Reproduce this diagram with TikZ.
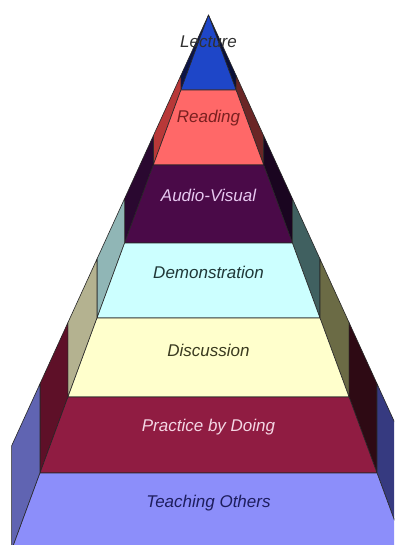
\documentclass[tikz,border=0pt]{standalone}
\usepackage{fontspec}
\setmainfont{Liberation Sans}
% pyramid geometry: apex, half-slopes of the front face and of the silhouette
\def\pyrcx{208.5}
\def\pyrap{15}
\def\pyrsi{0.368}
\def\pyrso{0.457}
% front faces
\definecolor{lecF}{HTML}{1E46C8}
\definecolor{reaF}{HTML}{FF6868}
\definecolor{audF}{HTML}{4A0A48}
\definecolor{demF}{HTML}{CCFFFF}
\definecolor{disF}{HTML}{FFFFCC}
\definecolor{praF}{HTML}{901C42}
\definecolor{teaF}{HTML}{8C8EFA}
% left side panels
\definecolor{lecL}{HTML}{0C1448}
\definecolor{reaL}{HTML}{B83838}
\definecolor{audL}{HTML}{2A0830}
\definecolor{demL}{HTML}{90B6B6}
\definecolor{disL}{HTML}{B4B290}
\definecolor{praL}{HTML}{5E1028}
\definecolor{teaL}{HTML}{6064B2}
% right side panels
\definecolor{lecR}{HTML}{0A1038}
\definecolor{reaR}{HTML}{6A2626}
\definecolor{audR}{HTML}{1A0520}
\definecolor{demR}{HTML}{406060}
\definecolor{disR}{HTML}{6B6B45}
\definecolor{praR}{HTML}{2E0A14}
\definecolor{teaR}{HTML}{363A80}
% label colours
\definecolor{lecT}{HTML}{303030}
\definecolor{reaT}{HTML}{7A2020}
\definecolor{audT}{HTML}{E6C8F0}
\definecolor{demT}{HTML}{203838}
\definecolor{disT}{HTML}{3A3A20}
\definecolor{praT}{HTML}{F4D6E4}
\definecolor{teaT}{HTML}{1E1E5E}
\begin{document}
\begin{tikzpicture}[x=1pt,y=-1pt,
  face/.style={draw=black!85,line width=0.6pt,line join=round},
  sidepanel/.style={draw=black!85,line width=0.6pt,line join=round},
  lbl/.style={font=\fontsize{17}{20}\selectfont\itshape,inner sep=0pt,anchor=center}]
\useasboundingbox (0,0) rectangle (394,545);
\clip (0,0) rectangle (394,545);
\fill[white] (0,0) rectangle (394,545);
% one slab per tier: two side panels and the front trapezoid
\foreach \yt/\yb/\fc/\lc/\rc in {
  15/90/lecF/lecL/lecR,
  90/165/reaF/reaL/reaR,
  165/243/audF/audL/audR,
  243/318/demF/demL/demR,
  318/397/disF/disL/disR,
  397/473/praF/praL/praR,
  473/550/teaF/teaL/teaR}{
  \pgfmathsetmacro\xa{\pyrcx-\pyrsi*(\yb-\pyrap)}
  \pgfmathsetmacro\xb{\pyrcx-\pyrsi*(\yt-\pyrap)}
  \pgfmathsetmacro\oa{\pyrap+(\pyrcx-\xa)/\pyrso}
  \pgfmathsetmacro\ob{\pyrap+(\pyrcx-\xb)/\pyrso}
  \pgfmathsetmacro\xc{2*\pyrcx-\xa}
  \pgfmathsetmacro\xd{2*\pyrcx-\xb}
  \path[sidepanel,fill=\lc] (\xa,\oa) -- (\xb,\ob) -- (\xb,\yt) -- (\xa,\yb) -- cycle;
  \path[sidepanel,fill=\rc] (\xc,\oa) -- (\xd,\ob) -- (\xd,\yt) -- (\xc,\yb) -- cycle;
  \path[face,fill=\fc] (\xb,\yt) -- (\xd,\yt) -- (\xc,\yb) -- (\xa,\yb) -- cycle;
}
% tier labels
\node[lbl,text=lecT] (lecture) at (208.5,42) {Lecture};
\node[lbl,text=reaT] (reading) at (208.5,118) {Reading};
\node[lbl,text=audT] (audiovisual) at (208.5,195) {Audio-Visual};
\node[lbl,text=demT] (demonstration) at (208.5,272) {Demonstration};
\node[lbl,text=disT] (discussion) at (208.5,350) {Discussion};
\node[lbl,text=praT] (practice) at (208.5,427) {Practice by Doing};
\node[lbl,text=teaT] (teaching) at (208.5,503) {Teaching Others};
\end{tikzpicture}
\end{document}
